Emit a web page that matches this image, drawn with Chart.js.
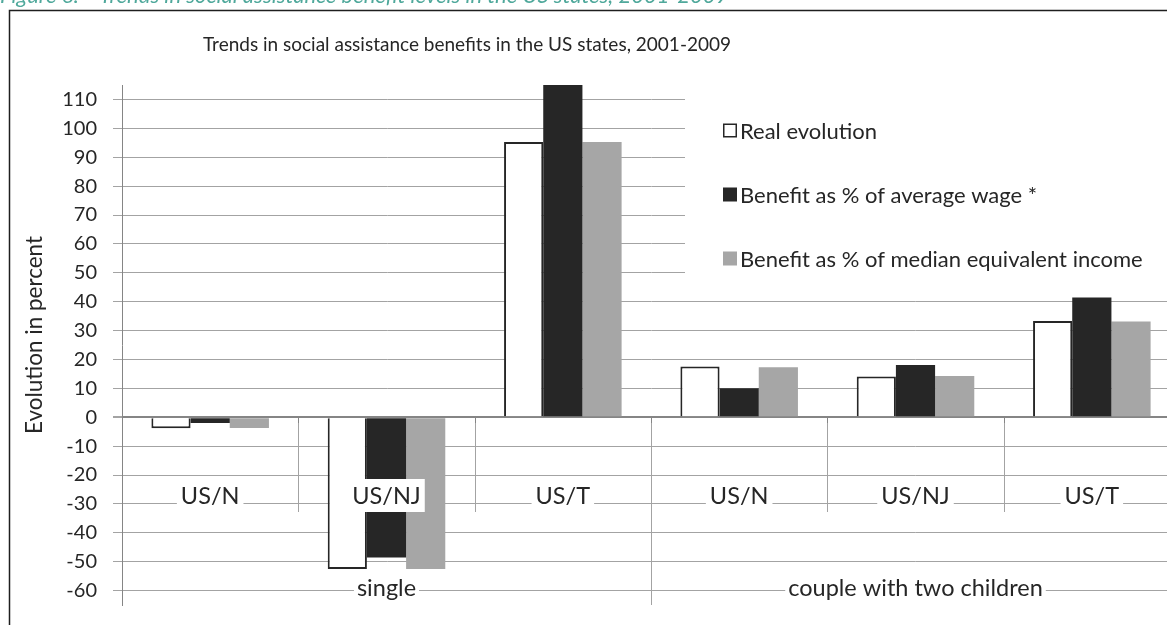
<!DOCTYPE html>
<html>
<head>
<meta charset="utf-8">
<script src="https://cdn.jsdelivr.net/npm/chart.js@4.4.1/dist/chart.umd.min.js"></script>
<style>
  html, body { margin: 0; padding: 0; overflow: hidden; background: #fff; width: 1167px; height: 625px; }
  canvas { display: block; }
</style>
</head>
<body>
<canvas id="chart" width="1200" height="625" style="width:1200px;height:625px"></canvas>
<script>
// Household types (outer level) and states (inner level) on the category axis
const categories = ['US/N', 'US/NJ', 'US/T', 'US/N', 'US/NJ', 'US/T'];
const groupLabels = ['single', 'couple with two children'];
const groupSizes = [3, 3];

// Series: change in benefit level, 2001-2009, in percent
const seriesNames = [
  'Real evolution',
  'Benefit as % of average wage *',
  'Benefit as % of median equivalent income'
];
const realEvolution     = [-3.8, -52.5, 95.3, 17.6, 14.1, 33.3];
const avgWageShare      = [-2.0, -48.6, 123.0, 10.0, 18.1, 41.4];
const medianIncomeShare = [-3.7, -52.5, 95.3, 17.3, 14.3, 33.1];

// Value axis
const yTickValues = [-60, -50, -40, -30, -20, -10, 0, 10, 20, 30, 40, 50, 60, 70, 80, 90, 100, 110];
const yMin = -65;
const yMax = 115;

const FONT = 'Lato, "Open Sans", sans-serif';
const TEXT = '#262626';
const GRID = '#a3a3a3';
const AXIS = '#858585';

const decorations = {
  id: 'decorations',
  beforeDraw(chart) {
    const ctx = chart.ctx;
    ctx.save();
    // figure caption above the frame
    ctx.fillStyle = '#4fa89b';
    ctx.font = 'italic 22px ' + FONT;
    ctx.textBaseline = 'alphabetic';
    ctx.textAlign = 'left';
    ctx.fillText('Figure 6:    Trends in social assistance benefit levels in the US states, 2001-2009', 0, 3);
    // chart frame
    ctx.strokeStyle = '#1e1e1e';
    ctx.lineWidth = 1.5;
    ctx.beginPath();
    ctx.moveTo(9.5, 640);
    ctx.lineTo(9.5, 10.5);
    ctx.lineTo(1300, 10.5);
    ctx.stroke();
    // chart title
    ctx.fillStyle = TEXT;
    ctx.font = '19px ' + FONT;
    ctx.textAlign = 'center';
    ctx.textBaseline = 'middle';
    ctx.fillText('Trends in social assistance benefits in the US states, 2001-2009', 467, 45);
    // value axis title
    ctx.translate(35, 335);
    ctx.rotate(-Math.PI / 2);
    ctx.font = '22.5px ' + FONT;
    ctx.fillText('Evolution in percent', 0, 0);
    ctx.restore();
  },
  afterDatasetsDraw(chart) {
    const ctx = chart.ctx;
    const x = chart.scales.x;
    const y = chart.scales.y;
    const area = chart.chartArea;
    const zeroY = Math.round(y.getPixelForValue(0));
    const step = (area.right - area.left) / categories.length;
    const innerRowY = area.bottom - 109;
    const outerRowY = area.bottom - 17;
    ctx.save();

    // boundaries between categories and between household groups
    const groupEnds = [];
    let acc = 0;
    groupSizes.forEach(n => { acc += n; groupEnds.push(acc); });
    for (let i = 1; i <= categories.length; i++) {
      const bx = Math.round(area.left + step * i) + 0.5;
      const isGroupEnd = groupEnds.includes(i);
      ctx.strokeStyle = GRID;
      ctx.lineWidth = 1;
      ctx.beginPath();
      ctx.moveTo(bx, zeroY);
      ctx.lineTo(bx, isGroupEnd ? area.bottom : innerRowY + 16);
      ctx.stroke();
      ctx.strokeStyle = AXIS;
      ctx.beginPath();
      ctx.moveTo(bx, zeroY);
      ctx.lineTo(bx, zeroY + 6);
      ctx.stroke();
    }

    // inner level labels (states)
    ctx.font = '23.5px ' + FONT;
    ctx.textAlign = 'center';
    ctx.textBaseline = 'middle';
    categories.forEach((label, i) => {
      const cx = x.getPixelForValue(i);
      const w = ctx.measureText(label).width;
      ctx.fillStyle = '#fff';
      ctx.fillRect(cx - w / 2 - 4, innerRowY - 17, w + 8, 33);
      ctx.fillStyle = TEXT;
      ctx.fillText(label, cx, innerRowY);
    });

    // outer level labels (household types)
    let start = 0;
    groupLabels.forEach((label, g) => {
      const end = start + groupSizes[g];
      const cx = area.left + step * (start + end) / 2;
      const w = ctx.measureText(label).width;
      ctx.fillStyle = '#fff';
      ctx.fillRect(cx - w / 2 - 3, outerRowY - 14, w + 6, 28);
      ctx.fillStyle = TEXT;
      ctx.fillText(label, cx, outerRowY);
      start = end;
    });
    ctx.restore();
  },
  afterDraw(chart) {
    const ctx = chart.ctx;
    ctx.save();
    // legend panel
    ctx.fillStyle = '#fff';
    ctx.fillRect(685, 92, 600, 196);
    const rowY = [130.5, 194.5, 258.5];
    ctx.font = '22px ' + FONT;
    ctx.textAlign = 'left';
    ctx.textBaseline = 'middle';
    chart.data.datasets.forEach((ds, i) => {
      const sy = rowY[i];
      ctx.fillStyle = ds.backgroundColor;
      ctx.fillRect(723, sy - 7, 14, 14);
      if (ds.borderWidth) {
        ctx.strokeStyle = ds.borderColor;
        ctx.lineWidth = 1.5;
        ctx.strokeRect(723.75, sy - 6.25, 12.5, 12.5);
      }
      ctx.fillStyle = TEXT;
      ctx.fillText(ds.label, 740, sy + 1);
    });
    ctx.restore();
  }
};

new Chart(document.getElementById('chart'), {
  type: 'bar',
  data: {
    labels: categories,
    datasets: [
      { label: seriesNames[0], data: realEvolution, backgroundColor: '#ffffff', borderColor: '#262626', borderWidth: 2 },
      { label: seriesNames[1], data: avgWageShare, backgroundColor: '#262626', borderWidth: 0 },
      { label: seriesNames[2], data: medianIncomeShare, backgroundColor: '#a6a6a6', borderWidth: 0 }
    ]
  },
  options: {
    responsive: false,
    animation: false,
    devicePixelRatio: 1,
    layout: { padding: { left: 0, top: 85, right: 20, bottom: 20 } },
    datasets: { bar: { categoryPercentage: 3 / 4.5, barPercentage: 1 } },
    plugins: { legend: { display: false }, tooltip: { enabled: false }, title: { display: false } },
    scales: {
      x: { display: false },
      y: {
        min: yMin,
        max: yMax,
        afterFit(scale) {
          scale.width = 122;
          scale.paddingTop = 0;
          scale.paddingBottom = 0;
        },
        afterBuildTicks(scale) { scale.ticks = yTickValues.map(v => ({ value: v })); },
        border: { display: true, color: AXIS, width: 1 },
        grid: {
          color: ctx => (ctx.tick && ctx.tick.value === 0 ? AXIS : GRID),
          lineWidth: ctx => (ctx.tick && ctx.tick.value === 0 ? 2 : 1),
          tickLength: 9,
          tickColor: GRID
        },
        ticks: { color: TEXT, font: { family: FONT, size: 20 }, padding: 16 }
      }
    }
  },
  plugins: [decorations]
});
</script>
</body>
</html>
